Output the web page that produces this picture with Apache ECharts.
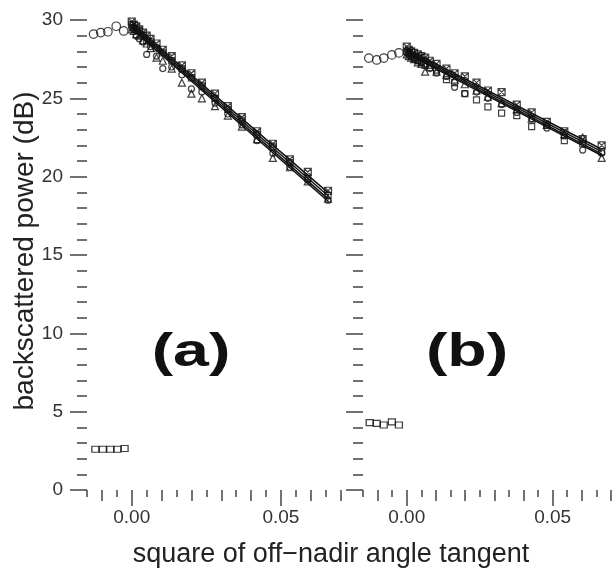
<!DOCTYPE html>
<html>
<head>
<meta charset="utf-8">
<script src="https://cdn.jsdelivr.net/npm/echarts@6/dist/echarts.min.js"></script>
<style>
html,body{margin:0;padding:0;background:#fff;}
#c{width:613px;height:572px;}
</style>
</head>
<body>
<div id="c"></div>
<script>
// ---------------- data ----------------
// panel (a)
const aRefX = [-0.0128, -0.0104, -0.0080, -0.0052, -0.0027];
const aRefCircle = [29.1, 29.2, 29.25, 29.6, 29.3];
const aRefSquareX = [-0.0122, -0.0097, -0.0072, -0.0048, -0.0024];
const aRefSquare = [2.6, 2.6, 2.6, 2.6, 2.65];

const aX = [0, 0.0007, 0.0015, 0.0025, 0.0038, 0.005, 0.0063, 0.0083, 0.0104, 0.0134, 0.0168, 0.020, 0.0235, 0.0279, 0.0322, 0.0369, 0.042, 0.0473, 0.053, 0.059, 0.0658];
const aCross    = [29.9, 29.7, 29.6, 29.4, 29.2, 29.0, 28.8, 28.5, 28.1, 27.7, 27.1, 26.6, 26.0, 25.3, 24.5, 23.8, 22.9, 22.1, 21.1, 20.3, 19.1];
const aSquare   = [29.7, 29.5, 29.4, 29.3, 29.0, 28.7, 28.6, 28.2, 27.9, 27.4, 26.9, 26.3, 25.8, 25.0, 24.3, 23.6, 22.7, 21.9, 20.9, 19.9, 18.8];
const aTriangle = [29.4, 29.3, 29.1, 29.0, 28.7, 28.5, 28.2, 27.6, 27.4, 26.9, 26.0, 25.3, 25.0, 24.5, 23.9, 23.2, 22.4, 21.2, 20.6, 19.7, 18.6];
const aCircle   = [29.5, 29.4, 29.0, 28.8, 28.6, 27.8, 28.3, 27.7, 26.9, 27.0, 26.5, 25.6, 25.4, 24.7, 24.0, 23.3, 22.3, 21.5, 20.6, 19.8, 18.5];
const aLineX = [0, 0.0660];
const aLines = [[29.75, 18.95], [29.65, 18.75], [29.55, 18.55], [29.45, 18.4]];

// panel (b)
const bRefX = [-0.0130, -0.0103, -0.0079, -0.0051, -0.0027];
const bRefCircle = [27.57, 27.45, 27.57, 27.77, 27.9];
const bRefSquareX = [-0.0127, -0.0103, -0.0079, -0.0051, -0.0027];
const bRefSquare = [4.3, 4.25, 4.15, 4.35, 4.15];

const bX = [0, 0.0007, 0.0015, 0.0025, 0.0038, 0.005, 0.0063, 0.0079, 0.0102, 0.0136, 0.0164, 0.0199, 0.0239, 0.0278, 0.0325, 0.0377, 0.0428, 0.048, 0.054, 0.0603, 0.0668];
const bCross    = [28.3, 28.1, 28.0, 27.9, 27.8, 27.7, 27.6, 27.4, 27.2, 26.9, 26.6, 26.4, 26.0, 25.5, 25.4, 24.6, 24.1, 23.5, 22.9, 22.4, 22.0];
const bSquare   = [28.0, 27.9, 27.7, 27.6, 27.4, 27.3, 27.1, 27.1, 26.8, 26.2, 26.0, 25.3, 24.9, 24.45, 24.06, 23.9, 23.2, 23.3, 22.3, 22.1, 21.6];
const bTriangle = [27.8, 27.7, 27.6, 27.5, 27.3, 27.2, 26.7, 27.0, 26.7, 26.5, 26.2, 25.9, 25.5, 25.1, 24.7, 24.3, 23.7, 23.3, 22.7, 22.5, 21.2];
const bCircle   = [27.9, 27.8, 27.7, 27.5, 27.4, 27.3, 27.2, 26.9, 26.6, 26.4, 25.7, 25.3, 25.4, 25.0, 24.6, 24.1, 23.7, 23.1, 22.6, 21.7, 21.5];
const bLineX = [0, 0.0668];
const bLines = [[28.15, 21.75], [28.05, 21.6], [27.95, 21.45], [27.85, 21.35]];

// axes / ticks
const xMin = -0.015, xMax = 0.07;
const yMin = 0, yMax = 30, yStep = 5;
const xLabelTicks = [0, 0.05];
const xMidTicks = [-0.01, 0.01, 0.02, 0.03, 0.04, 0.06, 0.07];
const xShortTicks = [-0.015, -0.005, 0.005, 0.015, 0.025, 0.035, 0.045, 0.055, 0.065];

const texts = {
  yTitle: 'backscattered power (dB)',
  xTitle: 'square of off\u2212nadir angle tangent',
  a: '(a)', b: '(b)'
};

// ---------------- chart ----------------
const FONT = '"Liberation Sans", Arial, Helvetica, sans-serif';
const TICK = '#444';
const chart = echarts.init(document.getElementById('c'), null, {renderer: 'canvas'});

const zip = (xs, ys) => xs.map((x, i) => [x, ys[i]]);
const crossSym = 'path://M0,0L10,0L10,10L0,10Z M0,0L10,10 M10,0L0,10';

function xAxes(gi) {
  const base = {
    gridIndex: gi, type: 'value', min: xMin, max: xMax, position: 'bottom',
    axisLine: {show: false, onZero: false}, splitLine: {show: false}
  };
  return [
    Object.assign({}, base, {
      axisTick: {show: true, customValues: xLabelTicks, length: 16, lineStyle: {color: TICK, width: 1.5}},
      axisLabel: {show: true, customValues: xLabelTicks, margin: 18, fontSize: 19, color: '#333', fontFamily: FONT,
        formatter: v => v.toFixed(2)}
    }),
    Object.assign({}, base, {
      axisTick: {show: true, customValues: xMidTicks, length: 11, lineStyle: {color: TICK, width: 1.5}},
      axisLabel: {show: false}
    }),
    Object.assign({}, base, {
      axisTick: {show: true, customValues: xShortTicks, length: 7, lineStyle: {color: TICK, width: 1.5}},
      axisLabel: {show: false}
    })
  ];
}
function yAxis(gi, labels) {
  return {
    gridIndex: gi, type: 'value', min: yMin, max: yMax, interval: yStep, position: 'left',
    axisLine: {show: false, onZero: false}, splitLine: {show: false},
    axisTick: {show: true, length: 17, lineStyle: {color: TICK, width: 1.5}},
    minorTick: {show: true, splitNumber: 5, length: 10, lineStyle: {color: TICK, width: 1.5}},
    axisLabel: {show: labels, margin: 24, fontSize: 19, color: '#333', fontFamily: FONT}
  };
}
function scatter(xi, yi, data, symbol, size) {
  return {
    type: 'scatter', xAxisIndex: xi, yAxisIndex: yi, data: data, symbol: symbol, symbolSize: size,
    itemStyle: {color: 'rgba(255,255,255,0)', borderColor: '#111', borderWidth: 1.2},
    emphasis: {disabled: true}, silent: true, z: 3
  };
}
function lines(xi, yi, xs, ls) {
  return ls.map(l => ({
    type: 'line', xAxisIndex: xi, yAxisIndex: yi, data: zip(xs, l), symbol: 'none',
    lineStyle: {color: '#111', width: 1.5}, silent: true, z: 4
  }));
}

const series = [
  scatter(0, 0, zip(aRefX, aRefCircle), 'circle', 8.5),
  scatter(0, 0, zip(aRefSquareX, aRefSquare), 'rect', [7, 6]),
  scatter(0, 0, zip(aX, aCross), crossSym, 7),
  scatter(0, 0, zip(aX, aSquare), 'rect', 6),
  scatter(0, 0, zip(aX, aTriangle), 'triangle', 7),
  scatter(0, 0, zip(aX, aCircle), 'circle', 6),
  ...lines(0, 0, aLineX, aLines),
  scatter(3, 1, zip(bRefX, bRefCircle), 'circle', 8.5),
  scatter(3, 1, zip(bRefSquareX, bRefSquare), 'rect', [7, 6]),
  scatter(3, 1, zip(bX, bCross), crossSym, 7),
  scatter(3, 1, zip(bX, bSquare), 'rect', 6),
  scatter(3, 1, zip(bX, bTriangle), 'triangle', 7),
  scatter(3, 1, zip(bX, bCircle), 'circle', 6),
  ...lines(3, 1, bLineX, bLines)
];

chart.setOption({
  animation: false,
  backgroundColor: '#fff',
  grid: [
    {left: 87, top: 20, width: 253.6, height: 470},
    {left: 363, top: 20, width: 248, height: 470}
  ],
  xAxis: [...xAxes(0), ...xAxes(1)],
  yAxis: [yAxis(0, true), yAxis(1, false)],
  series: series,
  graphic: [
    {type: 'text', x: 25, y: 251, rotation: Math.PI / 2,
      style: {text: texts.yTitle, font: '28px ' + FONT, fill: '#222', textAlign: 'center', textVerticalAlign: 'middle'}},
    {type: 'text', x: 331, y: 555,
      style: {text: texts.xTitle, font: '27px ' + FONT, fill: '#222', textAlign: 'center', textVerticalAlign: 'middle'}},
    {type: 'text', x: 191, y: 353, scaleX: 1.4,
      style: {text: texts.a, font: 'bold 46px ' + FONT, fill: '#111', textAlign: 'center', textVerticalAlign: 'middle'}},
    {type: 'text', x: 467, y: 353, scaleX: 1.4,
      style: {text: texts.b, font: 'bold 46px ' + FONT, fill: '#111', textAlign: 'center', textVerticalAlign: 'middle'}}
  ]
});
</script>
</body>
</html>
